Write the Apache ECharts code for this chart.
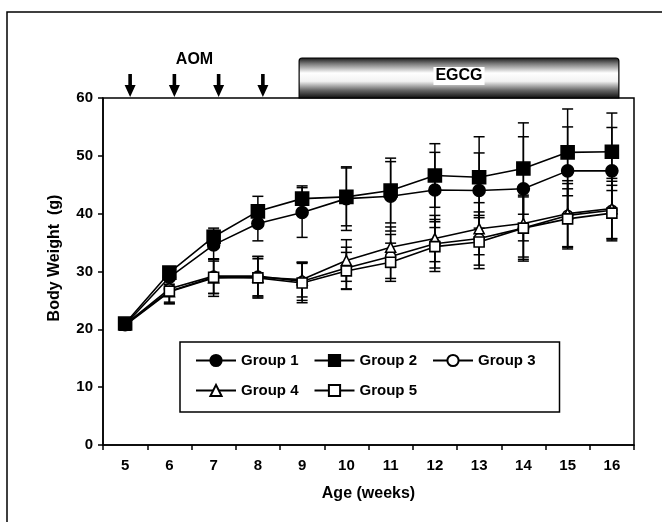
<!DOCTYPE html>
<html><head><meta charset="utf-8">
<script src="https://cdn.jsdelivr.net/npm/echarts@6/dist/echarts.min.js"></script>
<style>html,body{margin:0;padding:0;background:#fff}#c{width:662px;height:522px}</style>
</head><body><div id="c"></div>
<script>
const weeks = ['5','6','7','8','9','10','11','12','13','14','15','16'];
const group1 = [20.8, 29.0, 34.6, 38.3, 40.2, 42.6, 43.0, 44.1, 44.0, 44.3, 47.4, 47.4];
const group1Sd = [0.5, 1.2, 2.5, 3.0, 4.3, 5.5, 6.0, 6.5, 6.5, 9.0, 7.6, 7.5];
const group2 = [21.0, 29.8, 36.0, 40.4, 42.6, 42.9, 44.0, 46.6, 46.3, 47.8, 50.6, 50.7];
const group2Sd = [0.5, 1.0, 1.5, 2.6, 2.2, 5.0, 5.6, 5.5, 7.0, 7.9, 7.5, 6.7];
const group3 = [20.8, 27.0, 29.2, 29.2, 28.3, 30.6, 32.6, 34.8, 35.7, 37.5, 39.7, 40.6];
const group3Sd = [0.5, 2.3, 3.0, 3.4, 3.3, 3.6, 3.8, 4.2, 4.6, 5.4, 5.5, 5.0];
const group4 = [20.7, 26.5, 28.9, 29.0, 28.6, 31.9, 34.2, 35.7, 37.4, 38.3, 40.0, 40.9];
const group4Sd = [0.5, 2.0, 3.2, 3.6, 3.0, 3.6, 3.5, 4.0, 4.5, 5.8, 5.7, 5.2];
const group5 = [20.8, 26.6, 29.0, 28.9, 28.0, 30.1, 31.6, 34.3, 35.1, 37.5, 39.1, 40.1];
const group5Sd = [0.5, 2.2, 2.8, 3.3, 3.4, 3.2, 3.3, 4.3, 4.6, 5.7, 5.2, 4.8];
const yTicks = [0, 10, 20, 30, 40, 50, 60];
const aomWeeks = ['5','6','7','8'];
const egcgRange = ['9','16'];

const FONT = 'Liberation Sans';
const groups = [
  {name:'Group 1', data:group1, sd:group1Sd, symbol:'circle', size:12, fill:'#000'},
  {name:'Group 2', data:group2, sd:group2Sd, symbol:'rect', size:13, fill:'#000'},
  {name:'Group 3', data:group3, sd:group3Sd, symbol:'circle', size:10, fill:'#fff'},
  {name:'Group 4', data:group4, sd:group4Sd, symbol:'triangle', size:10, fill:'#fff'},
  {name:'Group 5', data:group5, sd:group5Sd, symbol:'rect', size:10, fill:'#fff'}
];

const chart = echarts.init(document.getElementById('c'), null, {renderer:'canvas'});
const series = [];
groups.forEach((g) => {
  series.push({
    type:'custom', name:g.name + ' sd', silent:true, z:1,
    data: g.data.map((v,i)=>[i, v, g.sd[i]]),
    renderItem: function(params, api){
      const x = api.value(0), v = api.value(1), s = api.value(2);
      const top = api.coord([x, v + s]);
      const bot = api.coord([x, v - s]);
      const hw = 5.5;
      const st = {stroke:'#000', lineWidth:1.5};
      return {type:'group', children:[
        {type:'line', shape:{x1:top[0], y1:top[1], x2:bot[0], y2:bot[1]}, style:st},
        {type:'line', shape:{x1:top[0]-hw, y1:top[1], x2:top[0]+hw, y2:top[1]}, style:st},
        {type:'line', shape:{x1:bot[0]-hw, y1:bot[1], x2:bot[0]+hw, y2:bot[1]}, style:st}
      ]};
    }
  });
});
groups.forEach((g, gi) => {
  series.push({
    type:'line', name:g.name, data:g.data, z:3 + (gi<2?1:0),
    symbol:g.symbol, symbolSize:g.size, showAllSymbol:true,
    lineStyle:{color:'#000', width:1.6},
    itemStyle:{color:g.fill, borderColor:'#000', borderWidth:1.6},
    emphasis:{disabled:true}, animation:false
  });
});

const option = {
  animation:false,
  backgroundColor:'#fff',
  grid:{left:103, right:28, top:98, bottom:77, show:true, borderColor:'#000', borderWidth:1.5, containLabel:false},
  legend:{
    data: groups.map(g=>g.name),
    left:180, top:342, width:345, orient:'horizontal',
    itemWidth:40, itemHeight:14, itemGap:15,
    padding:[11,24,14,15],
    borderColor:'#000', borderWidth:1.5, backgroundColor:'#fff',
    textStyle:{fontFamily:FONT, fontWeight:'bold', fontSize:15, color:'#000'},
    selectedMode:false
  },
  xAxis:{
    type:'category', data:weeks, boundaryGap:true,
    name:'Age (weeks)', nameLocation:'middle', nameGap:41,
    nameTextStyle:{fontFamily:FONT, fontWeight:'bold', fontSize:16, color:'#000'},
    axisLine:{lineStyle:{color:'#000', width:1.5}},
    axisTick:{show:true, inside:false, length:5, lineStyle:{color:'#000', width:1.5}},
    axisLabel:{fontFamily:FONT, fontWeight:'bold', fontSize:15, color:'#000', margin:13},
    splitLine:{show:false}
  },
  yAxis:{
    type:'value', min:yTicks[0], max:yTicks[yTicks.length-1], interval:10,
    axisLine:{show:true, lineStyle:{color:'#000', width:1.5}},
    axisTick:{show:true, inside:false, length:5, lineStyle:{color:'#000', width:1.5}},
    axisLabel:{fontFamily:FONT, fontWeight:'bold', fontSize:15, color:'#000', margin:10},
    splitLine:{show:false}
  },
  series: series
};
chart.setOption(option);

function annotate(){
  const gfx = [];
  // outer frame (top and left edges visible)
  gfx.push({type:'polyline', shape:{points:[[7,522],[7,12],[662,12]]}, style:{fill:null, stroke:'#000', lineWidth:1.5}, silent:true});
  // y axis title
  gfx.push({type:'text', x:55, y:258, rotation:Math.PI/2, style:{text:'Body Weight  (g)', fontFamily:FONT, fontWeight:'bold', fontSize:16, fill:'#000', textAlign:'center', textVerticalAlign:'middle'}, silent:true});
  const yTop = chart.convertToPixel({yAxisIndex:0}, yTicks[yTicks.length-1]);
  // AOM arrows
  const ax = aomWeeks.map(w => chart.convertToPixel({xAxisIndex:0}, w) + 5);
  ax.forEach(x => {
    gfx.push({type:'polygon', shape:{points:[[x-1.8, yTop-24],[x+1.8, yTop-24],[x+1.8, yTop-13],[x+5.5, yTop-13],[x, yTop-1],[x-5.5, yTop-13],[x-1.8, yTop-13]]}, style:{fill:'#000'}, silent:true});
  });
  gfx.push({type:'text', x:(ax[1]+ax[2])/2 - 2, y:yTop-38, style:{text:'AOM', fontFamily:FONT, fontWeight:'bold', fontSize:16, fill:'#000', textAlign:'center', textVerticalAlign:'middle'}, silent:true});
  // EGCG bar
  const x0 = chart.convertToPixel({xAxisIndex:0}, egcgRange[0]) - 3;
  const x1 = chart.convertToPixel({xAxisIndex:0}, egcgRange[1]) + 7;
  const h = 40;
  gfx.push({type:'rect', shape:{x:x0, y:yTop-h, width:x1-x0, height:h, r:[3,3,0,0]},
    style:{stroke:'#000', lineWidth:1.2, fill:{type:'linear', x:0, y:0, x2:0, y2:1, colorStops:[
      {offset:0, color:'#111'},{offset:0.15, color:'#777'},{offset:0.38, color:'#fff'},{offset:0.58, color:'#f2f2f2'},{offset:0.8, color:'#666'},{offset:1, color:'#0a0a0a'}]}}, silent:true});
  gfx.push({type:'text', x:(x0+x1)/2, y:yTop-h/2 - 2, style:{text:'EGCG', fontFamily:FONT, fontWeight:'bold', fontSize:16, fill:'#000', textAlign:'center', textVerticalAlign:'middle', backgroundColor:'#fff', padding:[1,2]}, silent:true});
  chart.setOption({graphic:gfx});
}
annotate();
</script></body></html>
